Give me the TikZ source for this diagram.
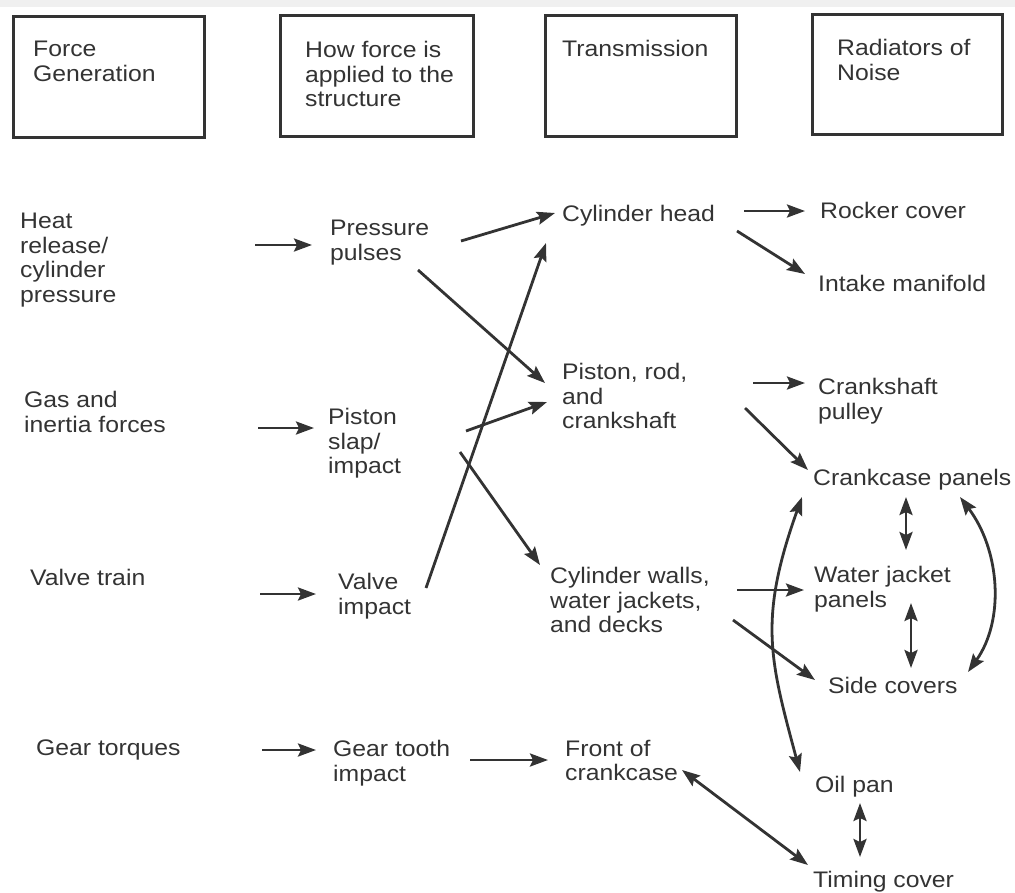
\documentclass[tikz,border=0pt]{standalone}
\usepackage{fontspec}
\setmainfont{Liberation Sans}[FakeStretch=1.1]
\usetikzlibrary{arrows.meta}
\definecolor{ink}{HTML}{333333}
\begin{document}
\begin{tikzpicture}[x=1pt,y=-1pt,
  txt/.style={anchor=north west,inner sep=0pt,align=left,text=ink,
    font=\fontsize{22.5}{24.5}\selectfont},
  hbox/.style={draw=ink,line width=3pt,inner sep=0pt},
  tip/.style={},
  arr/.style={draw=ink,line width=2.8pt,-{Stealth[length=18pt,width=13pt,inset=3pt]}},
  darr/.style={draw=ink,line width=2.8pt,{Stealth[length=18pt,width=13pt,inset=3pt]}-{Stealth[length=18pt,width=13pt,inset=3pt]}}]
\useasboundingbox (0,0) rectangle (1015,892);
\fill[black!6] (0,0) rectangle (1015,7);
% header boxes
\node[hbox,minimum width=191pt,minimum height=121pt] (box1) at (108.5,76.5) {};
\node[hbox,minimum width=193pt,minimum height=121pt] (box2) at (376.5,75.5) {};
\node[hbox,minimum width=191pt,minimum height=121pt] (box3) at (640.5,75.5) {};
\node[hbox,minimum width=190pt,minimum height=120pt] (box4) at (907,74) {};
\node[txt] (h1) at (33,41) {Force\\Generation};
\node[txt] (h2) at (305,41) {How force is\\applied to the\\structure};
\node[txt] (h3) at (562,40) {Transmission};
\node[txt] (h4) at (837,39) {Radiators of\\Noise};
% column 1
\node[txt] (heat) at (20,213) {Heat\\release/\\cylinder\\pressure};
\node[txt] (gas) at (24,391) {Gas and\\inertia forces};
\node[txt] (valve) at (30,569) {Valve train};
\node[txt] (gear) at (36,740) {Gear torques};
% column 2
\node[txt] (pp) at (330,220) {Pressure\\pulses};
\node[txt] (ps) at (328,408) {Piston\\slap/\\impact};
\node[txt] (vi) at (338,573) {Valve\\impact};
\node[txt] (gt) at (333,740) {Gear tooth\\impact};
% column 3
\node[txt] (ch) at (562,205) {Cylinder head};
\node[txt] (pr) at (562,363) {Piston, rod,\\and\\crankshaft};
\node[txt] (cw) at (550,567) {Cylinder walls,\\water jackets,\\and decks};
\node[txt] (fc) at (565,740) {Front of\\crankcase};
% column 4
\node[txt] (rc) at (820,202) {Rocker cover};
\node[txt] (im) at (818,275) {Intake manifold};
\node[txt] (cp) at (818,378) {Crankshaft\\pulley};
\node[txt] (ckp) at (813,469) {Crankcase panels};
\node[txt] (wj) at (814,566) {Water jacket\\panels};
\node[txt] (sc) at (828,677) {Side covers};
\node[txt] (op) at (815,776) {Oil pan};
\node[txt] (tc) at (813,871) {Timing cover};
% connectors
\draw[arr] ([shift={(235,32)}]heat.north west) -- ([shift={(-18,25)}]pp.north west);
\draw[arr] ([shift={(234,37)}]gas.north west) -- ([shift={(-14,20)}]ps.north west);
\draw[arr] ([shift={(230,25)}]valve.north west) -- ([shift={(-22,21)}]vi.north west);
\draw[arr] ([shift={(226,10)}]gear.north west) -- ([shift={(-17,10)}]gt.north west);
\draw[arr] ([shift={(131,21)}]pp.north west) -- ([shift={(-7,8)}]ch.north west);
\draw[arr] ([shift={(88,50)}]pp.north west) -- ([shift={(-17,20)}]pr.north west);
\draw[arr] ([shift={(138,23)}]ps.north west) -- ([shift={(-15,39)}]pr.north west);
\draw[arr] ([shift={(132,44)}]ps.north west) -- ([shift={(-10,-2)}]cw.north west);
\draw[arr] ([shift={(88,15)}]vi.north west) -- ([shift={(-16,38)}]ch.north west);
\draw[arr] ([shift={(137,20)}]gt.north west) -- ([shift={(-17,20)}]fc.north west);
\draw[arr] ([shift={(182,6)}]ch.north west) -- ([shift={(-15,9)}]rc.north west);
\draw[arr] ([shift={(175,26)}]ch.north west) -- ([shift={(-13,-1)}]im.north west);
\draw[arr] ([shift={(191,20)}]pr.north west) -- ([shift={(-13,5)}]cp.north west);
\draw[arr] ([shift={(183,45)}]pr.north west) -- ([shift={(-5,1)}]ckp.north west);
\draw[arr] ([shift={(187,23)}]cw.north west) -- ([shift={(-10,24)}]wj.north west);
\draw[arr] ([shift={(183,53)}]cw.north west) -- ([shift={(-13,3)}]sc.north west);
\draw[darr] ([shift={(93,28)}]ckp.north west) -- ([shift={(92,-16)}]wj.north west);
\draw[darr] ([shift={(97,37)}]wj.north west) -- ([shift={(83,-9)}]sc.north west);
\draw[darr] ([shift={(147,28)}]ckp.north west) .. controls ([shift={(187,81)}]ckp.north west) and ([shift={(177,-57)}]sc.north west) .. ([shift={(140,-5)}]sc.north west);
\draw[darr] ([shift={(-11,28)}]ckp.north west) .. controls ([shift={(-55,151)}]ckp.north west) and ([shift={(-45,-116)}]op.north west) .. ([shift={(-15,-4)}]op.north west);
\draw[darr] ([shift={(117,30)}]fc.north west) -- ([shift={(-5,-6)}]tc.north west);
\draw[darr] ([shift={(45,27)}]op.north west) -- ([shift={(47,-14)}]tc.north west);
\end{tikzpicture}
\end{document}
